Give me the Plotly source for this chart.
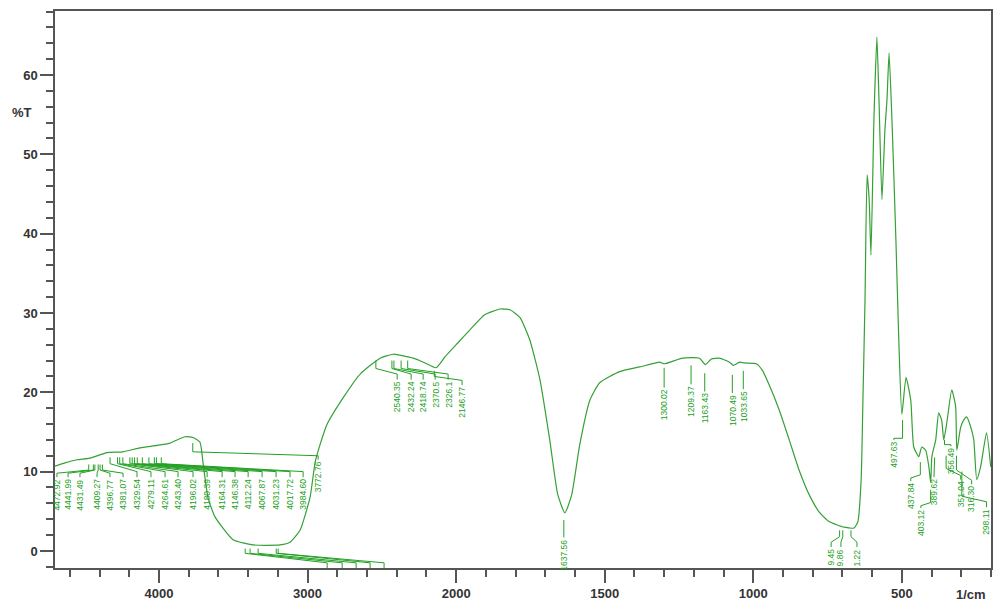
import plotly.graph_objects as go

# ---------------- data ----------------
wavenumber = [4700, 4633, 4552, 4464, 4350, 4242, 4128, 4013, 3926, 3825, 3771, 3724, 3703, 3670,
              3623, 3501, 3367, 3185, 3118, 3050, 2983, 2949, 2916, 2868, 2761, 2646, 2512, 2424,
              2289, 2209, 2135, 2074, 2000, 1953, 1903, 1852, 1819, 1785, 1752, 1718, 1685, 1658,
              1634, 1611, 1584, 1550, 1517, 1450, 1382, 1315, 1299, 1238, 1181, 1161, 1141, 1114,
              1080, 1067, 1047, 1030, 990, 970, 946, 913, 879, 846, 812, 778, 745, 694, 661, 648,
              637, 631, 624, 617, 610, 604, 594, 584, 577, 567, 557, 550, 543, 533, 520, 510, 500,
              486, 470, 460, 443, 433, 420, 409, 403, 399, 386, 376, 366, 359, 349, 332, 319, 315,
              302, 292, 282, 268, 258, 248, 235, 215, 201]
transmittance = [10.7, 11.1, 11.5, 11.7, 12.4, 12.5, 13.0, 13.3, 13.6, 14.4, 14.3, 13.7, 11.0, 6.7,
                 4.3, 1.4, 0.76, 0.76, 1.1, 2.65, 6.8, 11.2, 13.4, 16.0, 19.3, 22.3, 24.3, 24.8,
                 24.3, 23.7, 23.1, 24.5, 26.0, 27.9, 29.8, 30.5, 30.4, 29.4, 26.6, 21.6, 14.0, 7.1,
                 4.8, 7.1, 13.4, 19.0, 21.2, 22.6, 23.2, 23.8, 23.6, 24.3, 24.3, 23.5, 24.2, 24.3,
                 23.8, 23.4, 23.8, 23.7, 23.6, 22.8, 20.9, 17.8, 14.0, 10.2, 7.1, 4.9, 3.7, 3.0, 2.9, 3.7,
                 9.0, 19.0, 31.7, 47.4, 44.3, 37.3, 54.4, 64.8, 56.9, 44.3, 53.1, 56.9, 62.8, 54.0, 39.2, 26.2, 17.2,
                 21.9, 19.0, 13.1, 11.9, 13.1, 12.7, 10.6, 8.6, 11.9, 14.0, 17.4, 16.5, 14.0, 16.1, 20.3, 18.2, 12.7,
                 15.6, 16.5, 16.9, 15.6, 14.0, 9.0, 10.6, 14.9, 10.6]

x_tick_values = [4000, 3000, 2000, 1500, 1000, 500]
y_tick_values = [0, 10, 20, 30, 40, 50, 60]

# peak labels (text, peak wavenumber)
peak_labels = ["4472.92", "4441.99", "4431.49", "4409.27", "4396.77", "4381.07", "4329.54", "4279.11",
               "4264.61", "4243.40", "4196.02", "4180.39", "4164.31", "4146.38", "4112.24", "4067.87",
               "4031.23", "4017.72", "3984.60", "3772.76",
               "", "", "", "", "",
               "2540.35", "2432.24", "2418.74", "2370.5", "2326.1", "2146.77",
               "1637.56",
               "1300.02", "1209.37", "1163.43", "1070.49", "1033.65",
               "9.45", "9.86", "1.22",
               "497.63", "437.84", "403.12", "389.62", "356.49", "351.04", "316.30", "298.11"]
peak_positions = [4472.92, 4441.99, 4431.49, 4409.27, 4396.77, 4381.07, 4329.54, 4279.11,
                  4264.61, 4243.40, 4196.02, 4180.39, 4164.31, 4146.38, 4112.24, 4067.87,
                  4031.23, 4017.72, 3984.60, 3772.76,
                  3420, 3387, 3333, 3211, 3198,
                  2540.35, 2432.24, 2418.74, 2370.5, 2326.1, 2146.77,
                  1637.56,
                  1300.02, 1209.37, 1163.43, 1070.49, 1033.65,
                  709.45, 698.86, 671.22,
                  497.63, 437.84, 403.12, 389.62, 356.49, 351.04, 316.30, 298.11]

# ---------------- label layout (x where label sits, leader levels) ----------------
label_x = [4687, 4612, 4532, 4417, 4330, 4242, 4148, 4054, 3959, 3872, 3771, 3676, 3575, 3488,
           3400, 3306, 3212, 3118, 3030, 2929,
           2868, 2767, 2673, 2579, 2485,
           2397, 2303, 2222, 2141, 2054, 1980,
           1637.56,
           1300.02, 1209.37, 1163.43, 1070.49, 1033.65,
           738, 705, 651,
           527, 470, 436, 392, 335, 302, 265, 215]
lead_top = [10.9] * 6 + [11.8] * 13 + [13.6] + [0.3] * 5 + [24.0] * 5 + [22.7] + [3.9] + \
           [23.1, 23.4, 22.4, 22.2, 22.7] + [2.6] * 3 + [16.5, 11.2, 7.7, 11.8, 14.0, 12.0, 12.0, 10.0]
lead_bot = [10.2] * 6 + [11.0] * 13 + [12.5] + [-0.3] * 5 + [23.0] * 5 + [22.0] + [1.8] + \
           [20.7, 21.1, 20.2, 20.0, 20.5] + [1.8] * 3 + [14.2, 9.6, 6.1, 9.8, 13.4, 10.4, 10.2, 6.9]
lead_shelf = [9.8] * 6 + [10.0] * 13 + [12.0] + [-1.5] * 5 + [22.3] * 5 + [21.5] + [1.8] + \
             [20.7, 21.1, 20.2, 20.0, 20.5] + [1.1] * 3 + [14.2, 9.2, 5.7, 9.6, 13.4, 9.5, 8.9, 6.2]
text_top = [9.3] * 6 + [9.3] * 13 + [11.5] + [-2.6] * 5 + [21.6] * 5 + [20.9] + [1.7] + \
           [20.6, 21.0, 20.1, 19.9, 20.4] + [0.5] * 3 + [14.0, 8.8, 5.4, 9.3, 13.2, 9.0, 8.4, 5.5]


def disp(w):
    """Shimadzu-style axis: range above 2000 1/cm is compressed by a factor 2."""
    return w if w <= 2000 else 2000 + (w - 2000) / 2


GREEN = "#35a035"
LABEL_GREEN = "#22a022"
AXIS = "#555555"

fig = go.Figure()
fig.add_trace(go.Scatter(
    x=[disp(w) for w in wavenumber], y=transmittance, mode="lines",
    line=dict(color=GREEN, width=1.2, shape="spline", smoothing=0.5),
    hoverinfo="skip", showlegend=False))

lx, ly = [], []
for i in range(len(peak_positions)):
    p = disp(peak_positions[i])
    q = disp(label_x[i])
    lx += [p, p, q, q, None]
    ly += [lead_top[i], lead_bot[i], lead_shelf[i], text_top[i], None]
fig.add_trace(go.Scatter(x=lx, y=ly, mode="lines", line=dict(color=LABEL_GREEN, width=1),
                         hoverinfo="skip", showlegend=False))

annotations = []
for i, txt in enumerate(peak_labels):
    if not txt:
        continue
    annotations.append(dict(
        x=disp(label_x[i]), y=text_top[i], xref="x", yref="y", text=txt, showarrow=False,
        textangle=-90, xanchor="center", yanchor="top",
        font=dict(family="Liberation Sans Narrow, Liberation Sans, Arial", size=8.5, color=LABEL_GREEN)))

annotations.append(dict(x=-0.035, y=0.817, xref="paper", yref="paper", text="%T", showarrow=False,
                        xanchor="center", yanchor="middle",
                        font=dict(family="Liberation Sans", size=13, color="#333", weight="bold")))
annotations.append(dict(x=0.979, y=-0.048, xref="paper", yref="paper", text="1/cm", showarrow=False,
                        xanchor="center", yanchor="middle",
                        font=dict(family="Liberation Sans", size=13, color="#333", weight="bold")))

fig.update_layout(
    width=996, height=605,
    margin=dict(l=55, r=3, t=11, b=37),
    paper_bgcolor="white", plot_bgcolor="white",
    annotations=annotations,
    xaxis=dict(
        range=[disp(4700), disp(200)],
        tickmode="array",
        tickvals=[disp(v) for v in x_tick_values],
        ticktext=[str(v) for v in x_tick_values],
        ticks="outside", ticklen=13, tickwidth=1.5, tickcolor=AXIS,
        minor=dict(tickmode="array", tickvals=list(range(200, 3400, 100)),
                   ticks="outside", ticklen=7, tickwidth=1.5, tickcolor=AXIS),
        showline=True, linecolor=AXIS, linewidth=1.5, mirror=True,
        showgrid=False, zeroline=False,
        tickfont=dict(family="Liberation Sans", size=13, color="#333", weight="bold"),
    ),
    yaxis=dict(
        range=[-2.15, 68.07],
        tickmode="array", tickvals=y_tick_values,
        ticks="outside", ticklen=13, tickwidth=1.5, tickcolor=AXIS,
        minor=dict(dtick=2, tick0=0, ticks="outside", ticklen=7, tickwidth=1.5, tickcolor=AXIS),
        showline=True, linecolor=AXIS, linewidth=1.5, mirror=True,
        showgrid=False, zeroline=False,
        tickfont=dict(family="Liberation Sans", size=13, color="#333", weight="bold"),
    ),
)

fig.write_html("out.html")
